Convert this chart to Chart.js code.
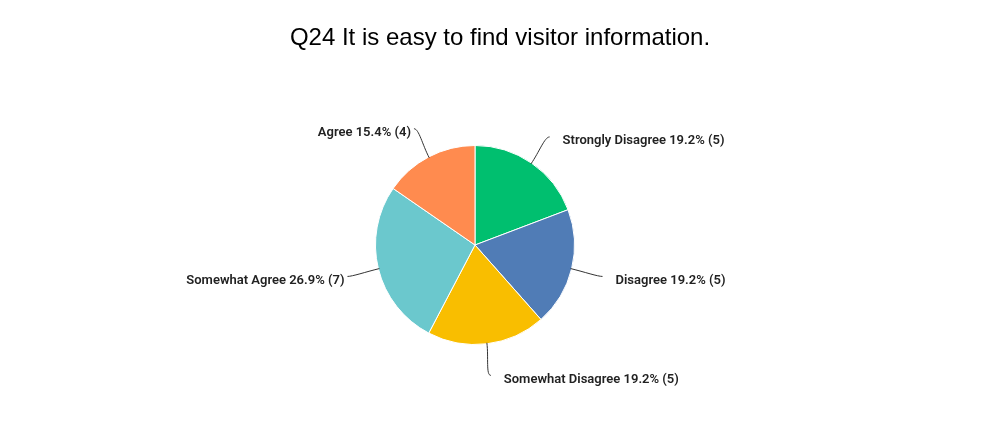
<!DOCTYPE html>
<html>
<head>
<meta charset="utf-8">
<script src="https://cdn.jsdelivr.net/npm/chart.js@4"></script>
<style>
    html, body { margin: 0; padding: 0; background: #fff; }
    #wrap { width: 1000px; height: 430px; }
</style>
</head>
<body>
<div id="wrap"><canvas id="pieChart" width="1000" height="430"></canvas></div>
<script>
const chartTitle = 'Q24 It is easy to find visitor information.';
const categories = ['Strongly Disagree', 'Disagree', 'Somewhat Disagree', 'Somewhat Agree', 'Agree'];
const counts = [5, 5, 5, 7, 4];
const percents = ['19.2%', '19.2%', '19.2%', '26.9%', '15.4%'];
const colors = ['#00BF6F', '#507CB6', '#F9BE00', '#6BC8CD', '#FF8B4F'];

// draws title and the labels with their little leader lines
const calloutPlugin = {
    id: 'callouts',
    afterDraw(chart) {
        const ctx = chart.ctx;
        ctx.save();
        ctx.fillStyle = '#000';
        ctx.font = '24px "Liberation Sans", Arial, sans-serif';
        ctx.textAlign = 'center';
        ctx.textBaseline = 'middle';
        ctx.fillText(chartTitle, chart.width / 2, 38);

        const arcs = chart.getDatasetMeta(0).data;
        ctx.font = '600 13px Roboto, sans-serif';
        arcs.forEach((arc, i) => {
            const mid = (arc.startAngle + arc.endAngle) / 2;
            const dx = Math.cos(mid), dy = Math.sin(mid);
            const r = arc.outerRadius;
            const side = dx >= 0 ? 1 : -1;
            const px = arc.x + dx * (r - 1), py = arc.y + dy * (r - 1);
            const ex = arc.x + dx * r * 1.32, ey = arc.y + dy * r * 1.32;

            ctx.strokeStyle = '#333';
            ctx.lineWidth = 1;
            ctx.beginPath();
            ctx.moveTo(px, py);
            ctx.bezierCurveTo(px + (ex - px) * 0.45, py + (ey - py) * 0.45, ex - side * 5, ey, ex, ey);
            ctx.stroke();

            const text = categories[i] + ' ' + percents[i] + ' (' + counts[i] + ')';
            ctx.fillStyle = '#222';
            ctx.textAlign = side > 0 ? 'left' : 'right';
            ctx.fillText(text, ex + (side > 0 ? 13 : -3), ey + 4);
        });
        ctx.restore();
    }
};

new Chart(document.getElementById('pieChart'), {
    type: 'pie',
    data: {
        labels: categories,
        datasets: [{
            data: counts,
            backgroundColor: colors,
            borderColor: '#fff',
            borderWidth: 1
        }]
    },
    options: {
        responsive: false,
        animation: false,
        layout: { padding: { top: 145, bottom: 85, left: 0, right: 50 } },
        plugins: {
            legend: { display: false },
            tooltip: { enabled: false }
        }
    },
    plugins: [calloutPlugin]
});
</script>
</body>
</html>
